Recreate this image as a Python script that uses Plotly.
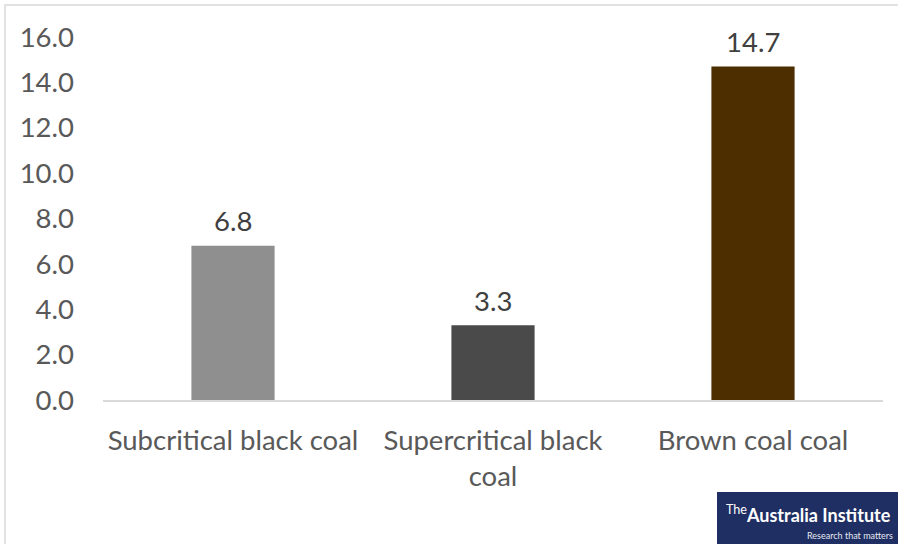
import plotly.graph_objects as go

categories = ["Subcritical black coal", "Supercritical black<br>coal", "Brown coal coal"]
values = [6.8, 3.3, 14.7]
bar_colors = ["#8f8f8f", "#4a4a4a", "#4d2e00"]
y_ticks = [0, 2, 4, 6, 8, 10, 12, 14, 16]

W, H = 898, 544
L, R, T, B = 103, 15, 37, 144
pw, ph = W - L - R, H - T - B


def px(x):
    return (x - L) / pw


def py(y):
    return (H - B - y) / ph


FONT = "Lato, Carlito, sans-serif"
FS = 27.5

fig = go.Figure(
    go.Bar(
        x=categories,
        y=values,
        marker=dict(color=bar_colors, line=dict(width=0)),
        width=0.32,
        cliponaxis=False,
    )
)

# value labels sitting above each bar
value_labels = [
    dict(x=c, y=v, xref="x", yref="y", text=f"{v:.1f}", showarrow=False,
         yanchor="middle", yshift=25,
         font=dict(size=FS, color="#404040", family=FONT))
    for c, v in zip(categories, values)
]

fig.update_layout(
    width=W,
    height=H,
    margin=dict(l=L, r=R, t=T, b=B),
    paper_bgcolor="white",
    plot_bgcolor="white",
    showlegend=False,
    font=dict(family=FONT, color="#595959", size=FS),
    xaxis=dict(
        showline=True,
        linecolor="#d9d9d9",
        linewidth=1.5,
        ticks="",
        showgrid=False,
        ticklabelstandoff=15,
        tickfont=dict(size=FS, color="#595959", family=FONT),
    ),
    yaxis=dict(
        range=[0, 16],
        tickvals=y_ticks,
        ticktext=[f"{v:.1f}" for v in y_ticks],
        showgrid=False,
        zeroline=False,
        showline=False,
        ticks="",
        ticklabelstandoff=28,
        tickfont=dict(size=FS, color="#595959", family=FONT),
    ),
    shapes=[
        # chart area border
        dict(type="rect", xref="paper", yref="paper",
             x0=px(5), x1=px(905), y0=py(551), y1=py(5),
             line=dict(color="#d9d9d9", width=1.5), fillcolor="rgba(0,0,0,0)",
             layer="below"),
        # institute logo block
        dict(type="rect", xref="paper", yref="paper",
             x0=px(717), x1=px(905), y0=py(551), y1=py(492),
             line=dict(width=0), fillcolor="#1f2f63"),
    ],
    annotations=value_labels + [
        dict(xref="paper", yref="paper", x=px(808), y=py(514),
             text="<sup>The</sup><b>Australia Institute</b>", showarrow=False,
             font=dict(family="Lato, sans-serif", size=18, color="white"),
             xanchor="center", yanchor="middle"),
        dict(xref="paper", yref="paper", x=px(895), y=py(535),
             text="Research that matters", showarrow=False,
             font=dict(family="Lato, sans-serif", size=9, color="#e6e8f0"),
             xanchor="right", yanchor="middle"),
    ],
)

fig.write_html("out.html")
